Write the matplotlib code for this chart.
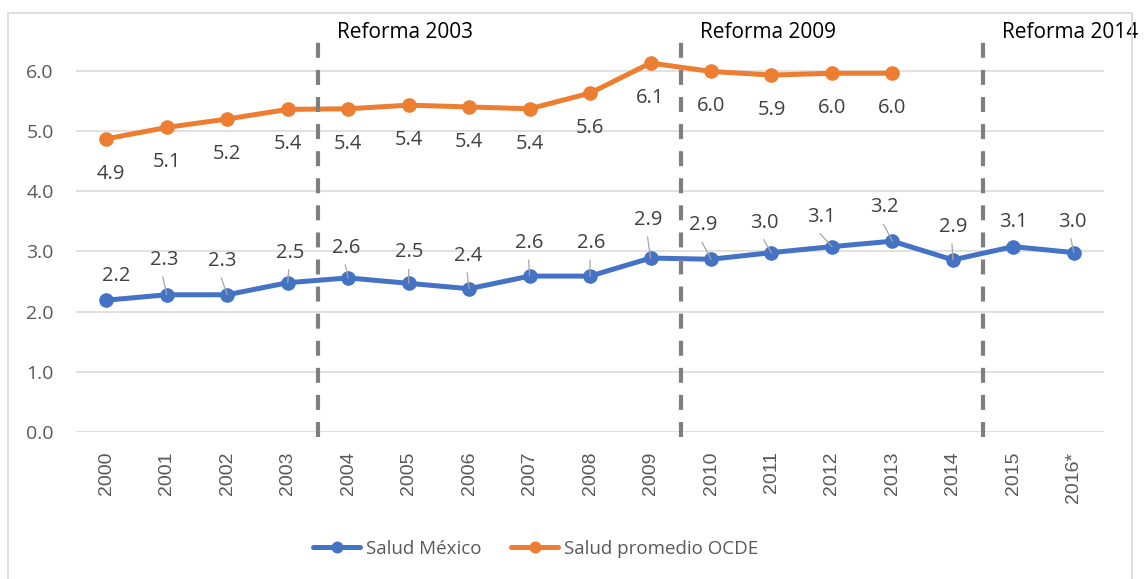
import matplotlib.pyplot as plt
from matplotlib.patches import Rectangle

plt.rcParams['font.family'] = ['Open Sans', 'DejaVu Sans']

years = ["2000", "2001", "2002", "2003", "2004", "2005", "2006", "2007", "2008",
         "2009", "2010", "2011", "2012", "2013", "2014", "2015", "2016*"]

salud_mexico = [2.19, 2.28, 2.28, 2.48, 2.56, 2.47, 2.38, 2.59, 2.59,
                2.89, 2.87, 2.98, 3.08, 3.17, 2.86, 3.08, 2.98]

# OCDE series stops at 2013
salud_ocde = [4.87, 5.06, 5.20, 5.36, 5.37, 5.43, 5.40, 5.37, 5.63,
              6.13, 5.99, 5.93, 5.96, 5.96]

reforma_labels = ["Reforma 2003", "Reforma 2009", "Reforma 2014"]
reforma_pos = [3.5, 9.5, 14.5]   # between category slots

# label offsets for the Mexico series, in pixels (dx, dy, leader line?)
mx_offsets = [(10, 24, False), (-3, 35, True), (-5, 34, True), (2, 30, True),
              (-2, 30, True), (1, 31, True), (-1, 33, True), (0, 33, True),
              (1, 33, True), (-2, 38, True), (-8, 34, True), (-7, 30, True),
              (-11, 30, True), (-8, 34, True), (0, 33, True), (0, 25, False),
              (-2, 31, True)]

blue = '#4472C4'
orange = '#ED7D31'
px = 0.72  # points per pixel at dpi 100

fig = plt.figure(figsize=(11.47, 5.79), dpi=100)
ax = fig.add_axes([0.0663, 0.2539, 0.8963, 0.6965])

x_mx = list(range(len(salud_mexico)))
x_oc = list(range(len(salud_ocde)))

ax.plot(x_mx, salud_mexico, color=blue, lw=3.6, marker='o', ms=9.5,
        label='Salud México', zorder=3, solid_capstyle='round')
ax.plot(x_oc, salud_ocde, color=orange, lw=3.6, marker='o', ms=9.5,
        label='Salud promedio OCDE', zorder=3, solid_capstyle='round')

# data labels
for i, v in enumerate(salud_ocde):
    dx = 5 if i == 0 else 0
    ax.annotate(f"{v:.1f}", (i, v), xytext=(dx * px, -35 * px),
                textcoords='offset points', ha='center', va='center',
                fontsize=14.5, color='#404040', zorder=5)

for i, v in enumerate(salud_mexico):
    dx, dy, leader = mx_offsets[i]
    ax.annotate(f"{v:.1f}", (i, v), xytext=(dx * px, dy * px),
                textcoords='offset points', ha='center', va='center',
                fontsize=14.5, color='#404040', zorder=5)
    if leader:
        ax.annotate("", xy=(i, v), xytext=((dx - 1) * px, (dy - 17) * px),
                    textcoords='offset points',
                    arrowprops=dict(arrowstyle='-', color='#a6a6a6', lw=0.9,
                                    shrinkA=0, shrinkB=0), zorder=4)

# reform markers
for lab, xpos in zip(reforma_labels, reforma_pos):
    ax.plot([xpos, xpos], [-0.08, 6.67], color='#7f7f7f', lw=3,
            dashes=(3.6, 2.9), clip_on=False, zorder=4)
    ax.annotate(lab, (xpos, 6.64), xytext=(19 * px, 0),
                textcoords='offset points', ha='left', va='center',
                fontsize=15, color='black', annotation_clip=False)

ax.set_xlim(-0.5, len(years) - 0.5)
ax.set_ylim(0, 6.7)
ax.set_xticks(x_mx)
ax.set_xticklabels(years, rotation=90, fontsize=14, color='#595959',
                   family=['Liberation Sans', 'DejaVu Sans'])
ax.set_yticks([0, 1, 2, 3, 4, 5, 6])
ax.set_yticklabels([f"{t:.1f}" for t in range(7)], fontsize=14, color='#595959')
ax.tick_params(axis='both', length=0)
ax.tick_params(axis='y', pad=16)
ax.tick_params(axis='x', pad=14)
ax.grid(axis='y', color='#d9d9d9', lw=1.1)
ax.set_axisbelow(True)
for s in ax.spines.values():
    s.set_visible(False)

fig.legend(loc='center', bbox_to_anchor=(0.467, 0.052), ncol=2, frameon=False,
           fontsize=13.5, labelcolor='#595959', handlelength=2.5,
           handletextpad=0.3, columnspacing=1.6, markerscale=0.8)

fig.patches.append(Rectangle((8 / 1147, -0.1), 1124 / 1147, 1.0775,
                             transform=fig.transFigure, fill=False,
                             edgecolor='#d9d9d9', lw=1.2))

fig.savefig('out.png', dpi=100)
